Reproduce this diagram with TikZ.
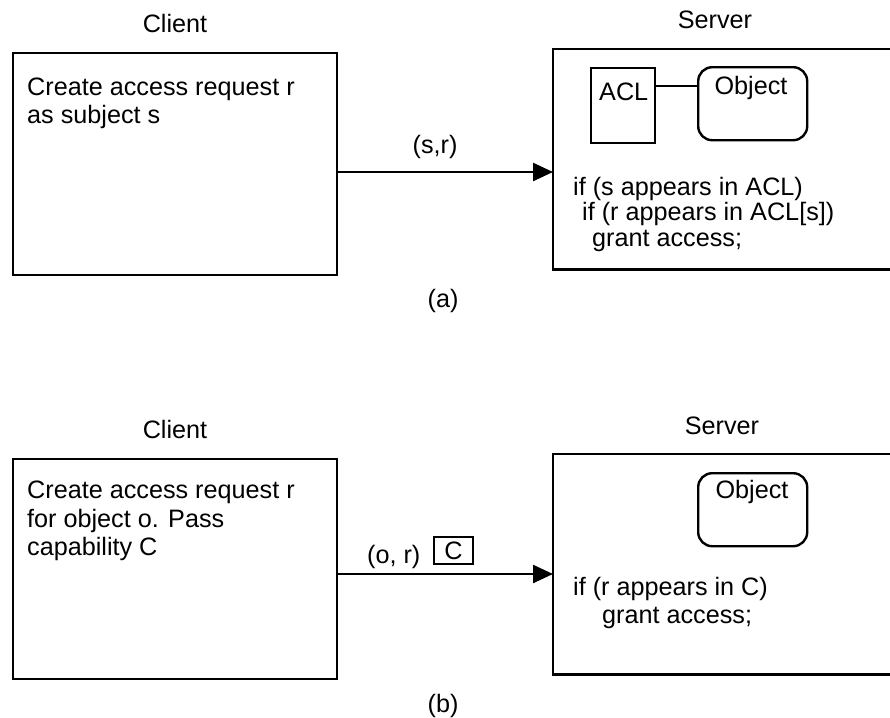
\documentclass[tikz,border=0pt]{standalone}
\usepackage{fontspec}
\setmainfont{Liberation Sans}
\usetikzlibrary{arrows.meta}
\begin{document}
\begin{tikzpicture}[x=1pt,y=-1pt,
  box/.style={draw,line width=2.4pt,anchor=north west,inner sep=0pt},
  srvbox/.style={draw=none,anchor=north west,inner sep=0pt,minimum width=337pt,minimum height=220pt},
  edge/.style={line width=2.4pt},
  obj/.style={draw,line width=2.4pt,rounded corners=14pt,anchor=north west,inner sep=0pt,minimum width=109pt,minimum height=73pt},
  lbl/.style={anchor=base west,inner sep=0pt,font=\fontsize{25.2}{28}\selectfont},
  lblc/.style={anchor=base,inner sep=0pt,font=\fontsize{25.2}{28}\selectfont},
  msg/.style={line width=2.4pt,-{Triangle[length=20pt,width=18pt]}}]
\useasboundingbox (0,0) rectangle (890,717);
% ---------- (a) ----------
\node[lblc] (clientA) at (175,33) {Client};
\node[box,minimum width=324pt,minimum height=222pt] (cliA) at (12,52) {};
\node[lbl] (cliA1) at (27,95) {Create access request r};
\node[lbl] (cliA2) at (27,123) {as subject s};
\node[lblc] (serverA) at (715,29) {Server};
\node[srvbox] (srvA) at (553,49) {};
\draw[edge] (srvA.north east) -- (srvA.north west) -- (srvA.south west) -- (srvA.south east);
\node[box,minimum width=64pt,minimum height=75pt] (acl) at (590,67) {};
\node[lbl] (aclT) at (599,100) {ACL};
\node[obj] (objA) at (697,66) {};
\node[lblc] (objAT) at (751,94) {Object};
\draw[edge] (acl.east |- 0,86) -- (objA.west |- 0,86);
\node[lbl] (srvA1) at (573,195) {if (s appears in ACL)};
\node[lbl] (srvA2) at (582,220) {if (r appears in ACL[s])};
\node[lbl] (srvA3) at (592,246) {grant access;};
\draw[msg] (cliA.east |- 0,172) -- (srvA.west |- 0,172);
\node[lblc] (msgA) at (435,153) {(s,r)};
\node[lblc] (capA) at (443,307) {(a)};
% ---------- (b) ----------
\node[lblc] (clientB) at (175,438) {Client};
\node[box,minimum width=324pt,minimum height=220pt] (cliB) at (12,458) {};
\node[lbl] (cliB1) at (27,498) {Create access request r};
\node[lbl] (cliB2) at (27,527) {for object o. Pass};
\node[lbl] (cliB3) at (27,555) {capability C};
\node[lblc] (serverB) at (722,434) {Server};
\node[srvbox] (srvB) at (553,454) {};
\draw[edge] (srvB.north east) -- (srvB.north west) -- (srvB.south west) -- (srvB.south east);
\node[obj] (objB) at (697,472) {};
\node[lblc] (objBT) at (752,498) {Object};
\node[lbl] (srvB1) at (573,595) {if (r appears in C)};
\node[lbl] (srvB2) at (602,623) {grant access;};
\draw[msg] (cliB.east |- 0,574) -- (srvB.west |- 0,574);
\node[lbl] (msgB) at (367,563) {(o, r)};
\node[draw,line width=1.9pt,anchor=north west,inner sep=0pt,minimum width=39pt,minimum height=27pt,font=\fontsize{25.2}{28}\selectfont] (capC) at (433,536) {C};
\node[lblc] (capB) at (443,712) {(b)};
\end{tikzpicture}
\end{document}
